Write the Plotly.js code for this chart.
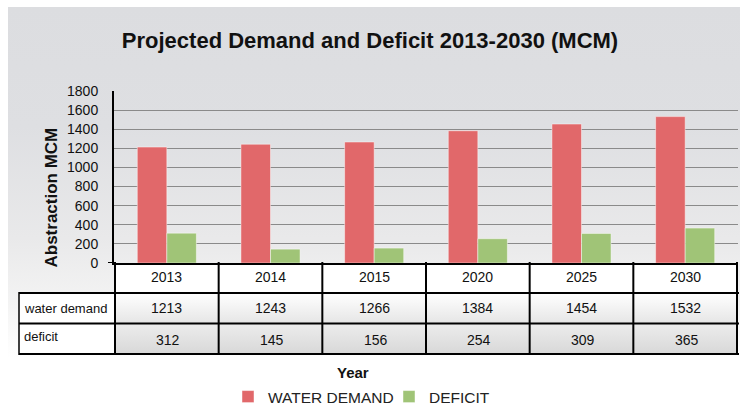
<!DOCTYPE html>
<html>
<head>
<meta charset="utf-8">
<script src="https://cdn.plot.ly/plotly-3.0.1.min.js"></script>
<style>
html,body{margin:0;padding:0;background:#fff;}
#wrap{position:relative;width:740px;height:406px;overflow:hidden;background:#fff;}
#panel{position:absolute;left:8px;top:7px;width:732px;height:399px;
 background:linear-gradient(to bottom,#dcdde0 0%,#dedfe2 30%,#e9e9ea 58%,#f4f4f4 75%,#ffffff 88%,#ffffff 100%);}
.cell{position:absolute;}
#rowYear{left:114px;top:263px;width:624px;height:30px;background:#ffffff;}
#rowWater{left:114px;top:293px;width:624px;height:30px;background:linear-gradient(to bottom,#ffffff,#e6e6e6);}
#rowDef{left:114px;top:323px;width:624px;height:31px;background:linear-gradient(to bottom,#ededed,#d8d8d8);}
#labCells{left:19px;top:293px;width:95px;height:61px;background:#ffffff;}
#chart{position:absolute;left:0;top:0;width:740px;height:406px;}
</style>
</head>
<body>
<div id="wrap">
  <div id="panel"></div>
  <div class="cell" id="rowYear"></div>
  <div class="cell" id="rowWater"></div>
  <div class="cell" id="rowDef"></div>
  <div class="cell" id="labCells"></div>
  <div id="chart"></div>
</div>
<script>
// ---- data ----
var years = ['2013', '2014', '2015', '2020', '2025', '2030'];
var waterDemand = [1213, 1243, 1266, 1384, 1454, 1532];
var deficit = [312, 145, 156, 254, 309, 365];
var seriesNames = ['WATER DEMAND', 'DEFICIT'];
var rowLabels = ['water demand', 'deficit'];
var yTicks = [0, 200, 400, 600, 800, 1000, 1200, 1400, 1600, 1800];

// ---- geometry helpers (pixel -> paper) ----
var W = 740, H = 406, L = 114, R = 2, T = 91, B = 143;
var PW = W - L - R, PH = H - T - B;
function px(xp) { return (xp - L) / PW; }
function py(yp) { return (H - B - yp) / PH; }

var FONT = '"Liberation Sans", Arial, sans-serif';

var traces = [
  { type: 'bar', x: years, y: waterDemand, name: seriesNames[0],
    marker: { color: '#e1686a', line: { color: 'rgba(255,255,255,0.45)', width: 1 } } },
  { type: 'bar', x: years, y: deficit, name: seriesNames[1],
    marker: { color: '#a0c477', line: { color: 'rgba(255,255,255,0.45)', width: 1 } } }
];

var shapes = [];
var annotations = [];
var lineStyle = { color: '#000', width: 2 };
// vertical table lines at category boundaries
for (var i = 0; i <= years.length; i++) {
  shapes.push({ type: 'line', xref: 'x', yref: 'paper', x0: i - 0.5, x1: i - 0.5,
    y0: py(262), y1: py(354.5), line: lineStyle, layer: 'above' });
}
// horizontal table lines
[293, 323.5, 354].forEach(function (yy) {
  shapes.push({ type: 'line', xref: 'paper', yref: 'paper', x0: px(19), x1: px(739),
    y0: py(yy), y1: py(yy), line: { color: '#000', width: 2 }, layer: 'above' });
});
// left border of the label box
shapes.push({ type: 'line', xref: 'paper', yref: 'paper', x0: px(19), x1: px(19),
  y0: py(292), y1: py(355), line: { color: '#000', width: 1.5 }, layer: 'above' });
// stub at zero
shapes.push({ type: 'line', xref: 'paper', yref: 'y', x0: px(108), x1: 0,
  y0: 0, y1: 0, line: { color: '#000', width: 2 }, layer: 'above' });

// table text
years.forEach(function (yr, i) {
  annotations.push({ xref: 'x', yref: 'paper', x: i, y: py(277), text: yr, showarrow: false,
    font: { family: FONT, size: 14, color: '#111' }, xanchor: 'center', yanchor: 'middle' });
  annotations.push({ xref: 'x', yref: 'paper', x: i, y: py(308), text: String(waterDemand[i]), showarrow: false,
    font: { family: FONT, size: 14, color: '#111' }, xanchor: 'center', yanchor: 'middle' });
  annotations.push({ xref: 'x', yref: 'paper', x: i + 0.015, y: py(340), text: String(deficit[i]), showarrow: false,
    font: { family: FONT, size: 14, color: '#111' }, xanchor: 'center', yanchor: 'middle' });
});
annotations.push({ xref: 'paper', yref: 'paper', x: px(22), y: py(308), text: rowLabels[0], showarrow: false,
  font: { family: FONT, size: 13, color: '#111' }, xanchor: 'left', yanchor: 'middle' });
annotations.push({ xref: 'paper', yref: 'paper', x: px(22), y: py(336), text: rowLabels[1], showarrow: false,
  font: { family: FONT, size: 13, color: '#111' }, xanchor: 'left', yanchor: 'middle' });
// axis titles
annotations.push({ xref: 'paper', yref: 'paper', x: px(51), y: py(197.5), text: '<b>Abstraction MCM</b>', showarrow: false,
  textangle: -90, font: { family: FONT, size: 17, color: '#111' }, xanchor: 'center', yanchor: 'middle' });
annotations.push({ xref: 'paper', yref: 'paper', x: px(353), y: py(372), text: '<b>Year</b>', showarrow: false,
  font: { family: FONT, size: 15, color: '#111' }, xanchor: 'center', yanchor: 'middle' });

var layout = {
  width: W, height: H,
  margin: { l: L, r: R, t: T, b: B, pad: 0, autoexpand: false },
  paper_bgcolor: 'rgba(0,0,0,0)',
  plot_bgcolor: 'rgba(0,0,0,0)',
  title: { text: '<b>Projected Demand and Deficit 2013-2030 (MCM)</b>', x: 0.5, xref: 'container', xanchor: 'center',
    y: 1 - 40 / H, yref: 'container', yanchor: 'middle',
    font: { family: FONT, size: 22, color: '#111' } },
  barmode: 'group', bargap: 0.43, bargroupgap: 0,
  showlegend: true,
  legend: { orientation: 'h', x: px(228), xanchor: 'left', y: py(397), yanchor: 'middle',
    entrywidth: 116, entrywidthmode: 'pixels',
    font: { family: FONT, size: 15.5, color: '#222' }, bgcolor: 'rgba(0,0,0,0)', tracegroupgap: 0 },
  xaxis: { type: 'category', showticklabels: false, showline: true, linecolor: '#000', linewidth: 2,
    ticks: '', showgrid: false, zeroline: false, fixedrange: true },
  yaxis: { range: [0, 1800], tickvals: yTicks, ticktext: yTicks.map(String), showline: true,
    linecolor: '#000', linewidth: 2, ticks: 'outside', ticklen: 11, tickcolor: 'rgba(0,0,0,0)',
    showgrid: true, gridcolor: '#8a8a8a', gridwidth: 1, zeroline: false,
    tickfont: { family: FONT, size: 14, color: '#111' }, fixedrange: true },
  shapes: shapes,
  annotations: annotations
};

Plotly.newPlot('chart', traces, layout, { displayModeBar: false, staticPlot: true });
</script>
</body>
</html>
